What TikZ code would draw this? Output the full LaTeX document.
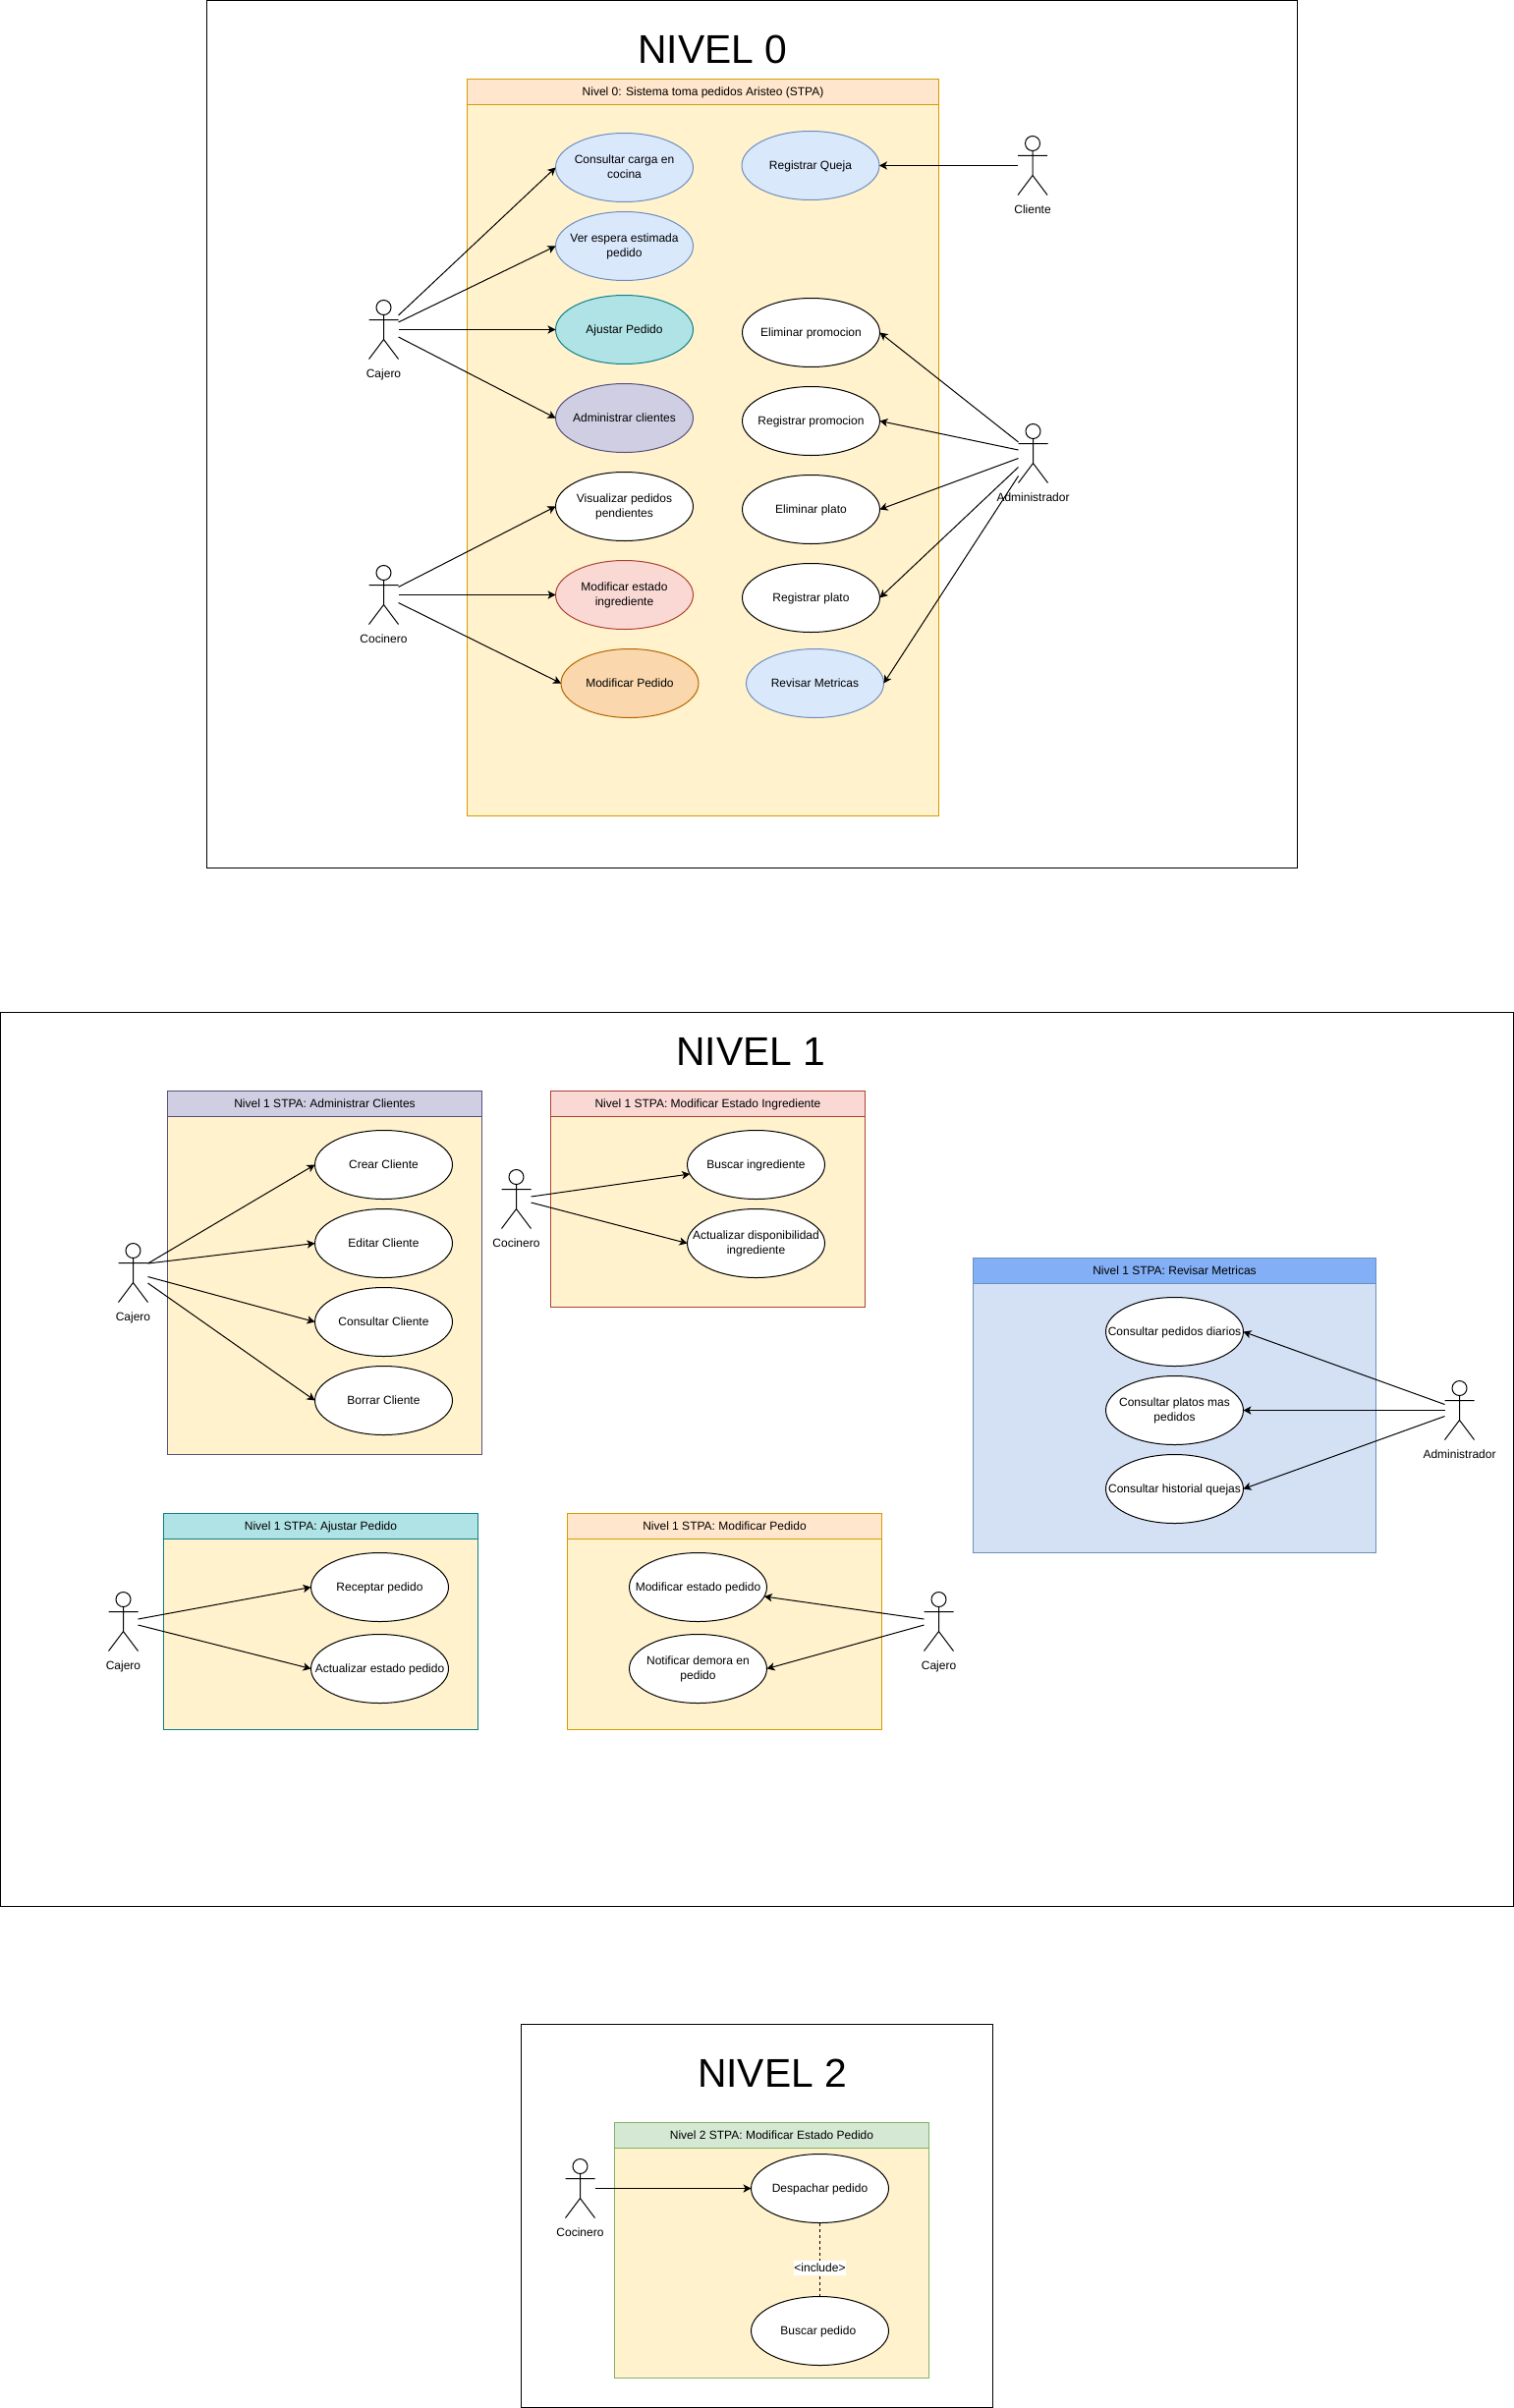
\documentclass[tikz,border=0pt]{standalone}
\usepackage{fontspec}
\usepackage{xcolor}
\setmainfont{Liberation Sans}
\usetikzlibrary{shapes.geometric,arrows.meta,calc}

\definecolor{fillWhite}{HTML}{FFFFFF}\definecolor{lineWhite}{HTML}{000000}
\definecolor{fillBlue}{HTML}{DAE8FC}\definecolor{lineBlue}{HTML}{6C8EBF}
\definecolor{fillTeal}{HTML}{B0E3E6}\definecolor{lineTeal}{HTML}{0E8088}
\definecolor{fillPurple}{HTML}{D0CEE2}\definecolor{linePurple}{HTML}{56517E}
\definecolor{fillRed}{HTML}{FAD9D5}\definecolor{lineRed}{HTML}{AE4132}
\definecolor{fillOrange}{HTML}{FAD7AC}\definecolor{lineOrange}{HTML}{B46504}
\definecolor{fillPeach}{HTML}{FFE6CC}\definecolor{linePeach}{HTML}{D79B00}
\definecolor{fillSky}{HTML}{82AFF5}\definecolor{lineSky}{HTML}{6C8EBF}
\definecolor{fillGreen}{HTML}{D5E8D4}\definecolor{lineGreen}{HTML}{82B366}
\definecolor{bodyYellow}{HTML}{FFF2CC}
\definecolor{bodySky}{HTML}{D4E1F5}

\newcommand{\linestrut}{\rule[-1.6pt]{0pt}{9.6pt}}

\tikzset{
  every node/.style={font=\fontsize{9}{11.25}\selectfont,outer sep=0pt},
  struts/.style={execute at begin node=\linestrut,execute at end node=\linestrut},
  uc/.style={ellipse,draw=line#1,fill=fill#1,line width=.75pt,align=center,struts,
    minimum width=105pt,minimum height=52.5pt,inner xsep=-60pt,inner ysep=0pt},
  uc/.default=White,
  arrow/.style={line width=.75pt,-{Stealth[length=6pt,width=6.2pt,inset=1.6pt]}},
  levelbox/.style={rectangle,draw=black,line width=.75pt,anchor=north west,inner sep=0pt},
  levelname/.style={font=\fontsize{30.6}{36}\selectfont,inner sep=0pt},
  actorbox/.style={rectangle,minimum width=22.5pt,minimum height=45pt,inner sep=0pt},
  lanebody/.style={rectangle,line width=.75pt,anchor=north west,inner sep=0pt},
  lanetitle/.style={rectangle,line width=.75pt,anchor=north west,inner sep=0pt,struts,minimum height=19.5pt}
}

% name, x, y, text
\newcommand{\actor}[4]{%
  \node[inner sep=0pt,struts] (#1name) at (#2,#3+44.5) {#4};
  \node[actorbox] (#1) at (#2,#3) {};
  \draw[line width=.75pt] (#2,#3-22.5) circle [radius=7.5];
  \draw[line width=.75pt] (#2,#3-15) -- (#2,#3+10) (#2-15,#3-10) -- (#2+15,#3-10)
    (#2-15,#3+30) -- (#2,#3+10) -- (#2+15,#3+30);
}
% name, x, y, width, height, text, colour, body
\newcommand{\lane}[8]{%
  \node[lanebody,draw=line#7,fill=#8,minimum width=#4*0.75pt,minimum height=#5*0.75pt] (#1) at (#2,#3) {};
  \node[lanetitle,draw=line#7,fill=fill#7,minimum width=#4*0.75pt] (#1title) at (#2,#3) {#6};
}

\begin{document}
\begin{tikzpicture}[x=0.75pt,y=-0.75pt]
  \useasboundingbox (0,0) rectangle (1541,2451);

  % frames
  \node[levelbox,minimum width=832.5pt,minimum height=662.25pt] (frame0) at (210.5,0.5) {};
  \node[levelbox,minimum width=1155pt,minimum height=682.5pt] (frame1) at (0.5,1030.5) {};
  \node[levelbox,minimum width=360pt,minimum height=292.5pt] (frame2) at (530.5,2060.5) {};
  \node[levelname] (title0) at (725.5,50) {NIVEL 0};
  \node[levelname] (title1) at (764.5,1070) {NIVEL 1};
  \node[levelname] (title2) at (786,2110) {NIVEL 2};

  % lanes
  \lane{lane0}{475.5}{80.5}{480}{750}{Nivel 0: Sistema toma pedidos Aristeo (STPA)}{Peach}{bodyYellow}
  \lane{laneClientes}{170.5}{1110.5}{320}{370}{Nivel 1 STPA: Administrar Clientes}{Purple}{bodyYellow}
  \lane{laneIngrediente}{560.5}{1110.5}{320}{220}{Nivel 1 STPA: Modificar Estado Ingrediente}{Red}{bodyYellow}
  \lane{laneMetricas}{990.5}{1280.5}{410}{300}{Nivel 1 STPA: Revisar Metricas}{Sky}{bodySky}
  \lane{laneAjustar}{166.5}{1540.5}{320}{220}{Nivel 1 STPA: Ajustar Pedido}{Teal}{bodyYellow}
  \lane{lanePedido}{577.5}{1540.5}{320}{220}{Nivel 1 STPA: Modificar Pedido}{Peach}{bodyYellow}
  \lane{laneDespacho}{625.5}{2160.5}{320}{260}{Nivel 2 STPA: Modificar Estado Pedido}{Green}{bodyYellow}

  % use cases
  \foreach \name/\x/\y/\col/\txt in {
    ucCarga/635.5/170.5/Blue/{Consultar carga en\\cocina},
    ucEspera/635.5/250.5/Blue/{Ver espera estimada\\pedido},
    ucAjustar/635.5/335.5/Teal/{Ajustar Pedido},
    ucClientes/635.5/425.5/Purple/{Administrar clientes},
    ucPendientes/635.5/515.5/White/{Visualizar pedidos\\pendientes},
    ucEstado/635.5/605.5/Red/{Modificar estado\\ingrediente},
    ucPedido/641/695.5/Orange/{Modificar Pedido},
    ucQueja/825/168.5/Blue/{Registrar Queja},
    ucBorraPromo/825.5/338.5/White/{Eliminar promocion},
    ucRegPromo/825.5/428.5/White/{Registrar promocion},
    ucBorraPlato/825.5/518.5/White/{Eliminar plato},
    ucRegPlato/825.5/608.5/White/{Registrar plato},
    ucMetricas/829.5/695.5/Blue/{Revisar Metricas},
    ucCrear/390.5/1185.5/White/{Crear Cliente},
    ucEditar/390.5/1265.5/White/{Editar Cliente},
    ucConsultar/390.5/1345.5/White/{Consultar Cliente},
    ucBorrar/390.5/1425.5/White/{Borrar Cliente},
    ucBuscaIng/769.5/1185.5/White/{Buscar ingrediente},
    ucDisponible/769.5/1265.5/White/{Actualizar disponibilidad\\ingrediente},
    ucDiarios/1195.5/1355.5/White/{Consultar pedidos diarios},
    ucPlatos/1195.5/1435.5/White/{Consultar platos mas\\pedidos},
    ucQuejas/1195.5/1515.5/White/{Consultar historial quejas},
    ucReceptar/386.5/1615.5/White/{Receptar pedido},
    ucActualizar/386.5/1698.5/White/{Actualizar estado pedido},
    ucModEstado/710.5/1615.5/White/{Modificar estado pedido},
    ucDemora/710.5/1698.5/White/{Notificar demora en\\pedido},
    ucDespachar/834.5/2227.5/White/{Despachar pedido},
    ucBuscar/834.5/2372.5/White/{Buscar pedido}
  } {
    \node[uc=\col] (\name) at (\x,\y) {\txt};
  }

  % actors
  \actor{cajeroA}{390.5}{335.5}{Cajero}
  \actor{cocineroA}{390.5}{605.5}{Cocinero}
  \actor{clienteA}{1051}{168.5}{Cliente}
  \actor{adminA}{1051.5}{461.5}{Administrador}
  \actor{cajeroB}{135.5}{1295.5}{Cajero}
  \actor{cocineroB}{525.5}{1220.5}{Cocinero}
  \actor{adminB}{1485.5}{1435.5}{Administrador}
  \actor{cajeroC}{125.5}{1650.5}{Cajero}
  \actor{cajeroD}{955.5}{1650.5}{Cajero}
  \actor{cocineroC}{590.5}{2227.5}{Cocinero}

  % connectors, offset along the side of the actor
  \foreach \off/\to in {-14.5/ucCarga,-7.5/ucEspera,0/ucAjustar,7.5/ucClientes}
    \draw[arrow] ($(cajeroA.east)+(0,\off)$) -- (\to.west);
  \foreach \off/\to in {-8/ucPendientes,0/ucEstado,8/ucPedido}
    \draw[arrow] ($(cocineroA.east)+(0,\off)$) -- (\to.west);
  \draw[arrow] (clienteA.west) -- (ucQueja.east);
  \foreach \off/\to in {-11.5/ucBorraPromo,-3.5/ucRegPromo,5/ucBorraPlato,14/ucRegPlato,23/ucMetricas}
    \draw[arrow] ($(adminA.west)+(0,\off)$) -- (\to.east);

  \foreach \off/\to in {-9.5/ucCrear,-9.5/ucEditar,4/ucConsultar,10.5/ucBorrar}
    \draw[arrow] ($(cajeroB.east)+(0,\off)$) -- (\to.west);
  \draw[arrow] ($(cocineroB.east)+(0,-2.5)$) -- (ucBuscaIng.188);
  \draw[arrow] ($(cocineroB.east)+(0,3.5)$) -- (ucDisponible.west);
  \foreach \off/\to in {-6/ucDiarios,0/ucPlatos,6/ucQuejas}
    \draw[arrow] ($(adminB.west)+(0,\off)$) -- (\to.east);
  \foreach \off/\to in {-2.5/ucReceptar,3.5/ucActualizar}
    \draw[arrow] ($(cajeroC.east)+(0,\off)$) -- (\to.west);
  \draw[arrow] ($(cajeroD.west)+(0,-2.5)$) -- (ucModEstado.352);
  \draw[arrow] ($(cajeroD.west)+(0,3.5)$) -- (ucDemora.east);

  \draw[arrow] (cocineroC.east) -- (ucDespachar.west);
  \draw[line width=.75pt,dash pattern=on 2.25pt off 2.25pt] (ucDespachar.south) -- (ucBuscar.north)
    node[pos=.615,fill=white,inner xsep=.5pt,inner ysep=.8pt,struts] (includeLbl) {<include>};
\end{tikzpicture}
\end{document}
